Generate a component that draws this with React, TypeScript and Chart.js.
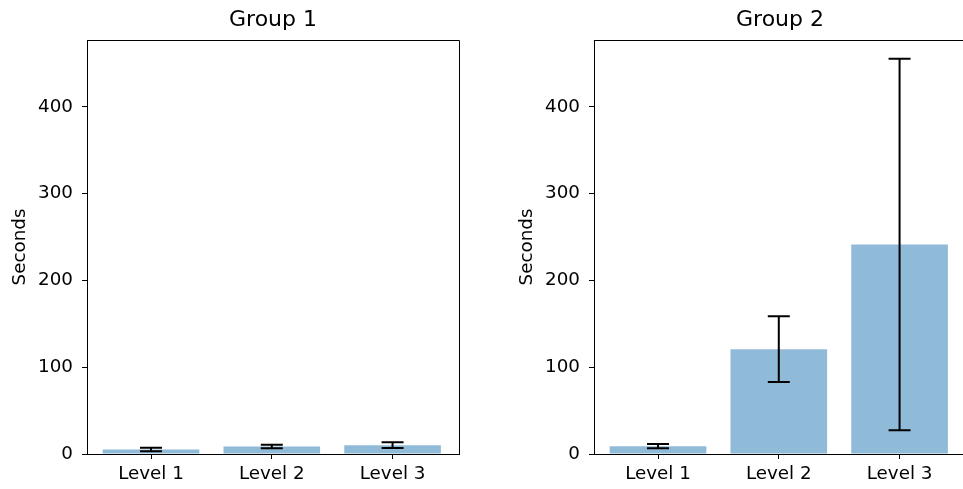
import React, { useEffect, useRef } from "react";
import { Chart, registerables } from "chart.js";

Chart.register(...registerables);

const categories = ["Level 1", "Level 2", "Level 3"];
const groupTitles = ["Group 1", "Group 2"];
const group1Means = [5.2, 8.6, 10.2];
const group1Errors = [2.0, 2.1, 3.3];
const group2Means = [9.0, 120.8, 241.3];
const group2Errors = [2.5, 37.8, 214.0];
const yTicks = [0, 100, 200, 300, 400];
const yMax = 477;

const FONT = "'DejaVu Sans', sans-serif";
const TICK_SIZE = 18.3;
const TITLE_SIZE = 22;

const errorBarPlugin = {
  id: "errorBars",
  afterDatasetsDraw(chart: any, _args: any, opts: any) {
    const { ctx } = chart;
    const xs = chart.scales.x;
    const ys = chart.scales.y;
    const means: number[] = opts.means;
    const errs: number[] = opts.errors;
    ctx.save();
    ctx.strokeStyle = "#000";
    ctx.lineWidth = 2;
    for (let i = 0; i < means.length; i++) {
      const x = xs.getPixelForValue(i);
      const yTop = ys.getPixelForValue(means[i] + errs[i]);
      const yBot = ys.getPixelForValue(means[i] - errs[i]);
      ctx.beginPath();
      ctx.moveTo(x, yTop);
      ctx.lineTo(x, yBot);
      ctx.moveTo(x - 11, yTop);
      ctx.lineTo(x + 11, yTop);
      ctx.moveTo(x - 11, yBot);
      ctx.lineTo(x + 11, yBot);
      ctx.stroke();
    }
    ctx.restore();
  },
};

const framePlugin = {
  id: "frame",
  afterDraw(chart: any) {
    const { ctx, chartArea } = chart;
    ctx.save();
    ctx.strokeStyle = "#000";
    ctx.lineWidth = 1;
    ctx.beginPath();
    ctx.moveTo(Math.round(chartArea.left) + 0.5, Math.round(chartArea.top) + 0.5);
    ctx.lineTo(Math.round(chartArea.right) + 0.5, Math.round(chartArea.top) + 0.5);
    ctx.lineTo(Math.round(chartArea.right) + 0.5, Math.round(chartArea.bottom) + 0.5);
    ctx.stroke();
    ctx.restore();
  },
};

function Panel(props: {
  title: string;
  means: number[];
  errors: number[];
  left: number;
  width: number;
  axisWidth: number;
  padRight: number;
  yTitlePad: number;
}) {
  const ref = useRef<HTMLCanvasElement>(null);
  useEffect(() => {
    if (!ref.current) return;
    const chart = new Chart(ref.current, {
      type: "bar",
      data: {
        datasets: [
          {
            data: props.means.map((m, i) => ({ x: i, y: m })),
            backgroundColor: "rgba(31,119,180,0.5)",
            borderWidth: 0,
            barPercentage: 0.8,
            categoryPercentage: 1.0,
          },
        ],
      },
      options: {
        animation: false,
        responsive: false,
        maintainAspectRatio: false,
        layout: { padding: { left: 0, right: props.padRight, top: 0, bottom: 0 } },
        plugins: {
          legend: { display: false },
          tooltip: { enabled: false },
          title: {
            display: true,
            text: props.title,
            fullSize: false,
            color: "#000",
            font: { family: FONT, size: TITLE_SIZE, weight: "normal" as any, lineHeight: 1.2 },
            padding: { top: 7, bottom: 40 - 7 - TITLE_SIZE * 1.2 },
          },
          errorBars: { means: props.means, errors: props.errors },
        } as any,
        scales: {
          x: {
            type: "linear",
            min: -0.53,
            max: 2.55,
            offset: false,
            afterBuildTicks: (s: any) => {
              s.ticks = categories.map((_, i) => ({ value: i }));
            },
            afterFit: (s: any) => {
              s.height = 35;
            },
            ticks: {
              color: "#000",
              font: { family: FONT, size: TICK_SIZE },
              padding: 4,
              maxRotation: 0,
              autoSkip: false,
              callback: (v: any) => categories[v as number] ?? "",
            },
            grid: {
              offset: false,
              drawOnChartArea: false,
              drawTicks: true,
              tickLength: 5,
              color: "#000",
            },
            border: { display: true, color: "#000", width: 1 },
          },
          y: {
            type: "linear",
            min: 0,
            max: yMax,
            afterBuildTicks: (s: any) => {
              s.ticks = yTicks.map((v) => ({ value: v }));
            },
            afterFit: (s: any) => {
              s.width = props.axisWidth;
            },
            ticks: {
              color: "#000",
              font: { family: FONT, size: TICK_SIZE },
              padding: 9,
            },
            grid: {
              offset: false,
              drawOnChartArea: false,
              drawTicks: true,
              tickLength: 5,
              color: "#000",
            },
            border: { display: true, color: "#000", width: 1 },
            title: {
              display: true,
              text: "Seconds",
              color: "#000",
              font: { family: FONT, size: TICK_SIZE },
              padding: { top: props.yTitlePad, bottom: 0 },
            },
          },
        },
      },
      plugins: [errorBarPlugin, framePlugin],
    } as any);
    return () => chart.destroy();
  }, []);
  return (
    <canvas
      ref={ref}
      width={props.width}
      height={489}
      style={{ position: "absolute", left: props.left, top: 0, width: props.width, height: 489 }}
    />
  );
}

export default function App() {
  return (
    <div
      style={{
        position: "fixed",
        left: 0,
        top: 0,
        width: 963,
        height: 489,
        overflow: "hidden",
        background: "#fff",
      }}
    >
      <Panel
        title={groupTitles[0]}
        means={group1Means}
        errors={group1Errors}
        left={0}
        width={481}
        axisWidth={87}
        padRight={22}
        yTitlePad={9}
      />
      <Panel
        title={groupTitles[1]}
        means={group2Means}
        errors={group2Errors}
        left={481}
        width={500}
        axisWidth={113}
        padRight={15}
        yTitlePad={35}
      />
    </div>
  );
}
